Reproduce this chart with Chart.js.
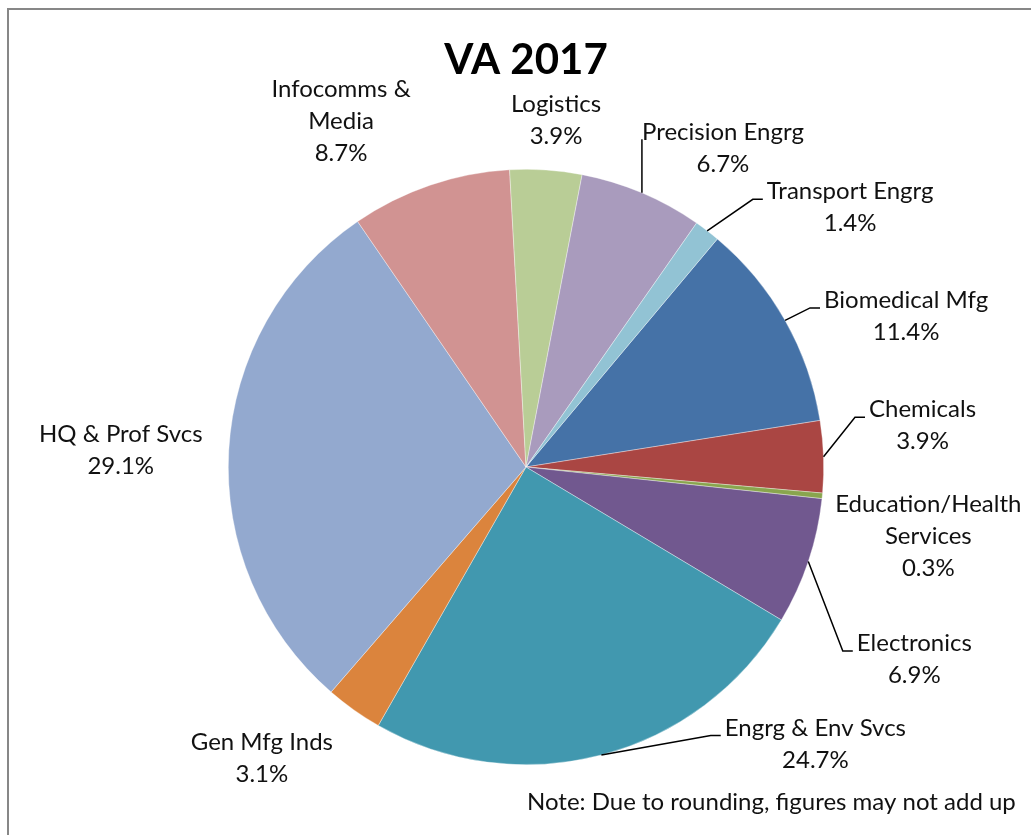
<!DOCTYPE html>
<html>
<head>
<meta charset="utf-8">
<title>VA 2017</title>
<script src="https://cdn.jsdelivr.net/npm/chart.js@4.4.0/dist/chart.umd.min.js"></script>
<style>
  html, body { margin: 0; padding: 0; background: #fff; overflow: hidden; }
  #wrap { position: relative; width: 1031px; height: 835px; overflow: hidden; }
  #frame { position: absolute; left: 7px; top: 8px; width: 1100px; height: 900px;
           border-left: 2px solid #878787; border-top: 2px solid #878787; }
  canvas { position: absolute; left: 0; top: 0; }
</style>
</head>
<body>
<div id="wrap">
  <div id="frame"></div>
  <canvas id="vaChart" width="1031" height="835"></canvas>
</div>
<script>
// sectors in data order (Excel alphabetical), multi-line names as arrays
const sectors = [
    "Biomedical Mfg",
    "Chemicals",
    ["Education/Health", "Services"],
    "Electronics",
    "Engrg & Env Svcs",
    "Gen Mfg Inds",
    "HQ & Prof Svcs",
    ["Infocomms &", "Media"],
    "Logistics",
    "Precision Engrg",
    "Transport Engrg"
];
const shares = [11.4, 3.9, 0.3, 6.9, 24.7, 3.1, 29.1, 8.7, 3.9, 6.7, 1.4];
const sliceColors = [
    "#4572A7", "#AA4643", "#89A54E", "#71588F", "#4198AF", "#DB843D",
    "#93A9CF", "#D19392", "#B9CD96", "#A99BBD", "#92C3D4"
];
const noteText = "Note: Due to rounding, figures may not add up";

// label centre offsets from each slice's outer mid point (px), and which get a leader line
const labelOffsets = [
    [121, -4], [99, -31], [106, 40], [106, 98], [214, -11], [-92, 48],
    [-108, 0], [-89, -64], [10, -50], [81, -45], [143, -23]
];
const hasLeader = [true, true, false, true, true, false, false, false, false, true, true];

// Draws outside data labels, leader lines and the footnote
const pieLabels = {
    id: "pieLabels",
    afterDatasetsDraw(chart, args, opts) {
        const ctx = chart.ctx;
        const meta = chart.getDatasetMeta(0);
        const labels = chart.data.labels;
        const values = chart.data.datasets[0].data;
        let cx0 = 0, cy0 = 0, rad = 0;

        ctx.save();
        ctx.font = opts.font;
        ctx.fillStyle = opts.color;
        ctx.strokeStyle = "#000";
        ctx.lineWidth = 1.5;
        ctx.textAlign = "center";
        ctx.textBaseline = "middle";

        meta.data.forEach((arc, i) => {
            const p = arc.getProps(["x", "y", "startAngle", "endAngle", "outerRadius"], true);
            cx0 = p.x; cy0 = p.y; rad = p.outerRadius;
            const mid = (p.startAngle + p.endAngle) / 2;
            const ex = p.x + Math.cos(mid) * p.outerRadius;
            const ey = p.y + Math.sin(mid) * p.outerRadius;
            const [dx, dy] = opts.offsets[i];
            const lx = ex + dx, ly = ey + dy;
            const lines = [].concat(labels[i], values[i].toFixed(1) + "%");
            const lh = opts.lineHeight;
            const top = ly - (lines.length - 1) * lh / 2;
            lines.forEach((t, k) => ctx.fillText(t, lx, top + k * lh));

            if (opts.leaders[i]) {
                const w = Math.max(...lines.map(t => ctx.measureText(t).width));
                const endX = lx - w / 2 - 4;
                const elbowX = endX - 10;
                const yy = top + 7.5;
                ctx.beginPath();
                ctx.moveTo(ex, ey);
                if (ex > elbowX) {
                    ctx.lineTo(ex, yy);
                } else {
                    ctx.lineTo(elbowX, yy);
                    ctx.lineTo(endX, yy);
                }
                ctx.stroke();
            }
        });

        // footnote under the pie
        ctx.textAlign = "left";
        ctx.fillText(opts.note, cx0 + 1, cy0 + rad + 38);
        ctx.restore();
    }
};

new Chart(document.getElementById("vaChart"), {
    type: "pie",
    data: {
        labels: sectors,
        datasets: [{
            data: shares,
            backgroundColor: sliceColors,
            borderColor: "rgba(255, 255, 255, 0.6)",
            borderWidth: 0.6
        }]
    },
    options: {
        responsive: false,
        animation: false,
        rotation: 40,
        layout: { padding: { top: 35, left: 228, right: 207, bottom: 70 } },
        plugins: {
            legend: { display: false },
            tooltip: { enabled: false },
            title: {
                display: true,
                text: "VA 2017",
                color: "#000",
                font: { family: "Lato", size: 42, weight: "bold", lineHeight: 1.2 },
                padding: { top: 0, bottom: 83.6 }
            },
            pieLabels: {
                font: "24px Lato",
                color: "#111",
                lineHeight: 32,
                offsets: labelOffsets,
                leaders: hasLeader,
                note: noteText
            }
        }
    },
    plugins: [pieLabels]
});
</script>
</body>
</html>
